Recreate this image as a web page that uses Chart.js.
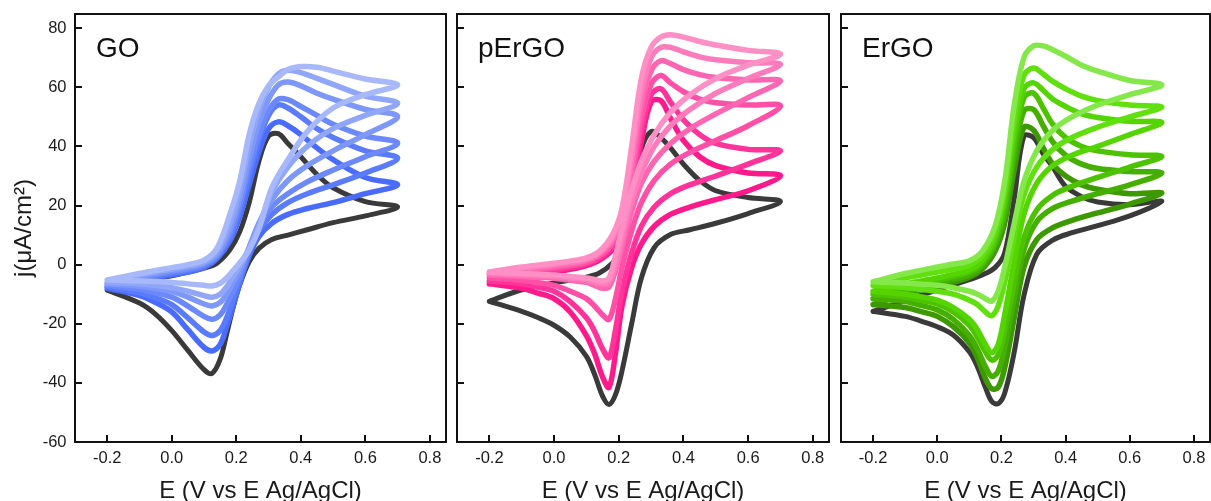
<!DOCTYPE html>
<html>
<head>
<meta charset="utf-8">
<script src="https://cdn.jsdelivr.net/npm/chart.js@4.4.1/dist/chart.umd.min.js"></script>
<style>
  html, body { margin: 0; padding: 0; background: #ffffff; overflow: hidden; }
  #wrap { position: relative; width: 1211px; height: 501px; overflow: hidden; background: #ffffff; }
  canvas { position: absolute; left: 0; top: 0; }
</style>
</head>
<body>
<div id="wrap">
  <canvas id="c1" width="1211" height="510"></canvas>
  <canvas id="c2" width="1211" height="510"></canvas>
  <canvas id="c3" width="1211" height="510"></canvas>
</div>
<script>
// ---------- potentials (V vs Ag/AgCl) ----------
const E_FWD = [-0.2, -0.1, 0, 0.05, 0.1, 0.14, 0.18, 0.21, 0.24, 0.27, 0.3, 0.33, 0.36, 0.4, 0.45, 0.5, 0.6, 0.7];
const E_REV = [0.6, 0.5, 0.42, 0.36, 0.31, 0.27, 0.24, 0.21, 0.19, 0.17, 0.15, 0.125, 0.1, 0.05, 0, -0.05, -0.1, -0.2];

// ---------- tick labels ----------
const X_TICKS = [-0.2, 0, 0.2, 0.4, 0.6, 0.8];
const X_LABELS = ['-0.2', '0.0', '0.2', '0.4', '0.6', '0.8'];
const Y_TICKS = [-60, -40, -20, 0, 20, 40, 60, 80];
const Y_LABELS = ['-60', '-40', '-20', '0', '20', '40', '60', '80'];
const PANEL_NAMES = ['GO', 'pErGO', 'ErGO'];

// ---------- GO (j in uA/cm2) ----------
const GO_K_fwd  = [-8.6, -5.5, -3.8, -2.5, -1.2, 0.5, 5, 11, 21, 35, 43.5, 44.3, 41, 36.5, 30.5, 26, 21.3, 19.5];
const GO_K_rev  = [16.5, 14.2, 11.8, 10, 8.5, 5.5, 1, -7, -14.5, -23.5, -32, -36.8, -35.5, -29, -22.3, -16.8, -13, -8.6];
const GO_1_fwd  = [-8, -5.5, -3.5, -2.5, -1, 2, 8, 16, 27, 38, 46, 48.3, 47, 44, 39.5, 35.5, 29.5, 27];
const GO_1_rev  = [24, 21, 19, 17, 14, 9.5, 3, -6.5, -14, -21, -27, -29.2, -28, -22, -16, -12.8, -10.5, -8];
const GO_2_fwd  = [-7.5, -5, -3, -2, -0.5, 2.5, 9, 18, 30, 42, 50.5, 54, 53, 50, 46, 43, 38.5, 36];
const GO_2_rev  = [31, 27, 24, 21, 17, 11.5, 4, -5.5, -12, -18, -22.3, -24, -22.8, -18, -13.5, -11.2, -9.5, -7.5];
const GO_3_fwd  = [-7, -4.5, -2.5, -1.5, 0, 3, 10.5, 20, 33, 44, 52, 56, 55.8, 53.5, 50.5, 47.5, 43.5, 41.1];
const GO_3_rev  = [36.5, 32, 28, 24, 19.5, 13, 5, -4, -9, -13.5, -17, -18.5, -17.5, -14, -11, -9.5, -8.3, -7];
const GO_4_fwd  = [-6.5, -4, -2, -1, 0.5, 3.5, 12, 22, 36, 48, 56, 60.8, 61.8, 60.5, 58, 56, 52.5, 50.1];
const GO_4_rev  = [44, 38.5, 33.5, 28.5, 22, 14, 6, -2, -6, -10, -12.8, -14, -13.3, -11, -9, -8.1, -7.3, -6.5];
const GO_5_fwd  = [-6, -3.5, -1.5, -0.5, 1, 4.5, 14, 25, 40, 52, 60, 64.5, 65.8, 65, 63, 61, 57, 54.6];
const GO_5_rev  = [50.5, 46, 40, 33, 24.5, 13, 5.5, -0.5, -4, -7.5, -10, -11, -10.5, -9, -7.8, -7.1, -6.5, -6];
const GO_6_fwd  = [-5.2, -3, -1, 0, 1.5, 5.5, 17, 28, 44, 54.5, 60.5, 63.5, 66, 67, 66.8, 65.5, 62.8, 60.8];
const GO_6_rev  = [57.5, 53, 45, 35.5, 26, 12, 5, 0.5, -2, -4.5, -6.3, -7.2, -7, -6.5, -6, -5.7, -5.5, -5.2];

// ---------- pErGO ----------
const PE_K_fwd  = [-12.4, -8.5, -6.2, -5.2, -4.2, -2.8, 0.5, 5, 20, 39, 45, 43, 39.5, 34, 28.5, 25, 22.7, 21.4];
const PE_K_rev  = [17.3, 14, 11.8, 10.2, 5.8, -4.5, -20, -36, -44, -47.3, -44.5, -37, -31, -24.5, -20.5, -17.9, -15.8, -12.4];
const PE_1_fwd  = [-6.5, -4.2, -2.6, -1.6, -0.3, 1.5, 5, 11, 23, 41.5, 55, 55.5, 49.5, 42, 36.5, 33.5, 31, 30.1];
const PE_1_rev  = [25, 22, 19.5, 17, 13, 7, -1, -14, -30, -41.5, -38, -30, -24, -16, -11.5, -9.6, -8, -6.5];
const PE_2_fwd  = [-5.5, -3.5, -2, -1, 0.2, 2.2, 6, 12.5, 26, 45, 57.5, 59.5, 55, 49, 44, 41, 39, 38.5];
const PE_2_rev  = [34, 30, 27, 24, 19.5, 13, 4, -9, -22, -31.5, -28.5, -22.5, -18, -12.5, -9, -7.6, -6.5, -5.5];
const PE_3_fwd  = [-4.5, -2.8, -1.2, -0.4, 0.7, 2.8, 7, 14, 29, 49, 61, 64, 61.5, 58.5, 56, 54.8, 54, 53.7];
const PE_3_rev  = [47, 42, 38, 34, 28.5, 21, 11.5, -1, -11.5, -18.5, -17, -14, -11.5, -9, -7, -6.1, -5.3, -4.5];
const PE_4_fwd  = [-3.5, -2, -0.6, 0.2, 1.3, 3.5, 8, 15.5, 32, 54, 65.5, 69, 68, 66, 64.3, 63.3, 62.5, 62.2];
const PE_4_rev  = [56.5, 51, 46, 41, 35, 27.5, 18, 6, -2, -7.5, -8, -7, -6, -5.3, -4.6, -4.3, -4, -3.5];
const PE_5_fwd  = [-3, -1.5, 0, 0.7, 1.8, 4, 9, 17, 36, 58, 70, 73.5, 73.5, 72, 70.3, 69.3, 68.3, 67.8];
const PE_5_rev  = [63, 58, 52.5, 47, 40, 31, 21.5, 9, 0, -6, -6.5, -6, -5.2, -4.6, -4, -3.7, -3.5, -3];
const PE_6_fwd  = [-2.5, -0.8, 0.5, 1.2, 2.3, 4.5, 10, 19, 40, 63, 73.5, 77, 77.8, 77, 75.5, 74.3, 72.5, 71.2];
const PE_6_rev  = [67.5, 63, 57.5, 51.5, 44, 35, 25, 12, 3, -4.5, -5.5, -5, -4.5, -4, -3.5, -3.2, -3, -2.5];

// ---------- ErGO ----------
const ER_K_fwd  = [-15.8, -12.2, -8.5, -6.8, -5.1, -3.5, -1, 4, 22.5, 43.5, 43, 37.5, 33, 26.5, 23, 21.2, 20.3, 21.4];
const ER_K_rev  = [16.5, 13.2, 10.8, 8.3, 3.5, -10.5, -29.5, -43.5, -47, -46.3, -41.5, -34.5, -29.5, -23.8, -21, -19.1, -17.5, -15.8];
const ER_1_fwd  = [-13.5, -10, -7.3, -6, -4.3, -1.5, 4.5, 14, 32, 46.5, 45.5, 39.5, 34, 30, 27, 25.5, 24, 24.2];
const ER_1_rev  = [20.5, 17.5, 15, 12.5, 8.5, -1, -18, -35, -41.5, -42, -38.5, -31.5, -26.5, -21, -17.5, -15.9, -14.5, -13.5];
const ER_2_fwd  = [-11.5, -8.5, -6.2, -5, -3.5, -0.5, 6.5, 17, 37, 52, 52.5, 47, 41.5, 37, 34, 32.5, 31.5, 31];
const ER_2_rev  = [27, 24, 21.5, 19, 14.5, 5, -11, -28, -36, -37.8, -34.5, -28.5, -24, -18.5, -15.3, -13.8, -12.5, -11.5];
const ER_3_fwd  = [-10, -7.5, -5.3, -4, -2.5, 0.5, 8, 20, 41, 56.5, 58, 53, 47.5, 43, 40, 38.5, 37.2, 36.6];
const ER_3_rev  = [33, 29.5, 26.5, 23.5, 18.5, 9, -6, -22, -30.5, -32.3, -29.5, -24.5, -20.5, -16, -13.3, -12.1, -11, -10];
const ER_4_fwd  = [-9, -6.5, -4.5, -3.3, -1.8, 1.5, 9.5, 23, 45, 59.5, 61.5, 59, 56, 53.5, 51, 49.8, 48.5, 48.1];
const ER_4_rev  = [44, 40, 37, 33.5, 27.5, 17, 1, -17, -27, -29.8, -27, -22, -18.5, -14.5, -12, -10.9, -10, -9];
const ER_5_fwd  = [-7, -4.5, -2.5, -1.5, -0.2, 3, 11, 25, 49, 64, 66.5, 64.5, 62, 59.5, 57, 55.5, 54, 53.3];
const ER_5_rev  = [50, 46.5, 43, 39, 33, 23.5, 9.5, -6, -14, -17.3, -16, -13.5, -12, -10, -9, -8.4, -7.8, -7];
const ER_6_fwd  = [-5.8, -3, -0.8, 0.2, 1.3, 4.5, 13, 28, 54, 70, 74, 74, 72.7, 70.5, 67.5, 65.5, 62.3, 60.8];
const ER_6_rev  = [57.5, 54, 50, 45.5, 38.5, 28, 14, -1, -9, -12.3, -11.5, -10, -9, -7.8, -7, -6.6, -6.2, -5.8];

// ---------- colours ----------
const BLACK = '#3a3a3a';
const GO_COLORS = ['#4a6bff', '#5b7bfd', '#6c89fb', '#7d97fa', '#8fa6f9', '#a7b8fb'];
const PE_COLORS = ['#ff1a8c', '#ff3399', '#ff4fa6', '#ff66b1', '#ff7bbb', '#ff8fc5'];
const ER_COLORS = ['#3c9a00', '#45af00', '#4dc300', '#55d500', '#60e00e', '#85e84a'];

const FONT = "'Liberation Sans', Arial, Helvetica, sans-serif";

function loop(fwd, rev) {
  return E_FWD.map((e, i) => ({ x: e, y: fwd[i] }))
    .concat(E_REV.map((e, i) => ({ x: e, y: rev[i] })));
}

function ds(fwd, rev, color, w) {
  return {
    data: loop(fwd, rev),
    borderColor: color,
    backgroundColor: color,
    borderWidth: w,
    showLine: true,
    pointRadius: 0,
    pointHoverRadius: 0,
    tension: 0.35,
    fill: false,
    borderCapStyle: 'round',
    borderJoinStyle: 'round'
  };
}

// Chart.js paints dataset 0 on top, so lightest first, black last (bottom).
const panels = [
  {
    id: 'c1', name: PANEL_NAMES[0], left: 75, right: 446, yLabels: true,
    datasets: [
      ds(GO_6_fwd, GO_6_rev, GO_COLORS[5], 5.5),
      ds(GO_5_fwd, GO_5_rev, GO_COLORS[4], 5.5),
      ds(GO_4_fwd, GO_4_rev, GO_COLORS[3], 5.5),
      ds(GO_3_fwd, GO_3_rev, GO_COLORS[2], 5.5),
      ds(GO_2_fwd, GO_2_rev, GO_COLORS[1], 5.5),
      ds(GO_1_fwd, GO_1_rev, GO_COLORS[0], 5.5),
      ds(GO_K_fwd, GO_K_rev, BLACK, 5)
    ]
  },
  {
    id: 'c2', name: PANEL_NAMES[1], left: 457, right: 829, yLabels: false,
    datasets: [
      ds(PE_6_fwd, PE_6_rev, PE_COLORS[5], 5.5),
      ds(PE_5_fwd, PE_5_rev, PE_COLORS[4], 5.5),
      ds(PE_4_fwd, PE_4_rev, PE_COLORS[3], 5.5),
      ds(PE_3_fwd, PE_3_rev, PE_COLORS[2], 5.5),
      ds(PE_2_fwd, PE_2_rev, PE_COLORS[1], 5.5),
      ds(PE_1_fwd, PE_1_rev, PE_COLORS[0], 5.5),
      ds(PE_K_fwd, PE_K_rev, BLACK, 5)
    ]
  },
  {
    id: 'c3', name: PANEL_NAMES[2], left: 841, right: 1210, yLabels: false,
    datasets: [
      ds(ER_6_fwd, ER_6_rev, ER_COLORS[5], 5.5),
      ds(ER_5_fwd, ER_5_rev, ER_COLORS[4], 5.5),
      ds(ER_4_fwd, ER_4_rev, ER_COLORS[3], 5.5),
      ds(ER_3_fwd, ER_3_rev, ER_COLORS[2], 5.5),
      ds(ER_2_fwd, ER_2_rev, ER_COLORS[1], 5.5),
      ds(ER_1_fwd, ER_1_rev, ER_COLORS[0], 5.5),
      ds(ER_K_fwd, ER_K_rev, BLACK, 5)
    ]
  }
];

const framePlugin = {
  id: 'frame',
  afterDraw(chart, args, opts) {
    const { ctx, chartArea: a, scales } = chart;
    ctx.save();
    ctx.strokeStyle = '#111';
    ctx.lineWidth = 2;
    // inward tick marks, positioned by the chart's own scales
    ctx.beginPath();
    X_TICKS.forEach(v => {
      const px = Math.round(scales.x.getPixelForValue(v));
      ctx.moveTo(px, a.bottom);
      ctx.lineTo(px, a.bottom - 7);
    });
    Y_TICKS.forEach(v => {
      const py = Math.round(scales.y.getPixelForValue(v));
      ctx.moveTo(a.left, py);
      ctx.lineTo(a.left + 7, py);
    });
    ctx.stroke();
    ctx.strokeRect(a.left, a.top, a.right - a.left, a.bottom - a.top);
    ctx.fillStyle = '#111';
    ctx.font = '28px ' + FONT;
    ctx.textBaseline = 'alphabetic';
    ctx.textAlign = 'left';
    ctx.fillText(opts.name, a.left + 21, 57);
    ctx.restore();
  }
};

panels.forEach(p => {
  const ctx = document.getElementById(p.id).getContext('2d');
  new Chart(ctx, {
    type: 'scatter',
    data: { datasets: p.datasets },
    options: {
      responsive: false,
      animation: false,
      devicePixelRatio: 1,
      events: [],
      layout: { padding: { left: p.yLabels ? 0 : p.left, right: 1211 - p.right, top: 14, bottom: 0 } },
      plugins: {
        legend: { display: false },
        tooltip: { enabled: false },
        frame: { name: p.name }
      },
      scales: {
        x: {
          type: 'linear',
          position: 'bottom',
          min: -0.3,
          max: 0.85,
          afterBuildTicks: s => { s.ticks = X_TICKS.map(v => ({ value: v })); },
          afterFit: s => { s.height = 68; s.paddingLeft = 0; s.paddingRight = 0; },
          border: { display: false },
          grid: { display: false, drawTicks: false },
          ticks: {
            padding: 7,
            maxRotation: 0,
            autoSkip: false,
            color: '#1a1a1a',
            font: { size: 16.5, family: FONT },
            callback: (v, i) => X_LABELS[i]
          },
          title: {
            display: true,
            text: 'E (V vs E Ag/AgCl)',
            color: '#1a1a1a',
            font: { size: 24, family: FONT },
            padding: { top: 0, bottom: 4.4 }
          }
        },
        y: {
          type: 'linear',
          position: 'left',
          min: -60,
          max: 84.8,
          afterBuildTicks: s => { s.ticks = Y_TICKS.map(v => ({ value: v })); },
          afterFit: s => { s.width = p.yLabels ? p.left : 0; s.paddingTop = 0; s.paddingBottom = 0; },
          border: { display: false },
          grid: { display: false, drawTicks: false },
          ticks: {
            display: p.yLabels,
            padding: 8.5,
            autoSkip: false,
            color: '#1a1a1a',
            font: { size: 16.5, family: FONT },
            callback: (v, i) => Y_LABELS[i]
          },
          title: {
            display: p.yLabels,
            text: 'j(μA/cm²)',
            color: '#1a1a1a',
            font: { size: 24, family: FONT },
            padding: { top: 10.3, bottom: 0 }
          }
        }
      }
    },
    plugins: [framePlugin]
  });
});
</script>
</body>
</html>
